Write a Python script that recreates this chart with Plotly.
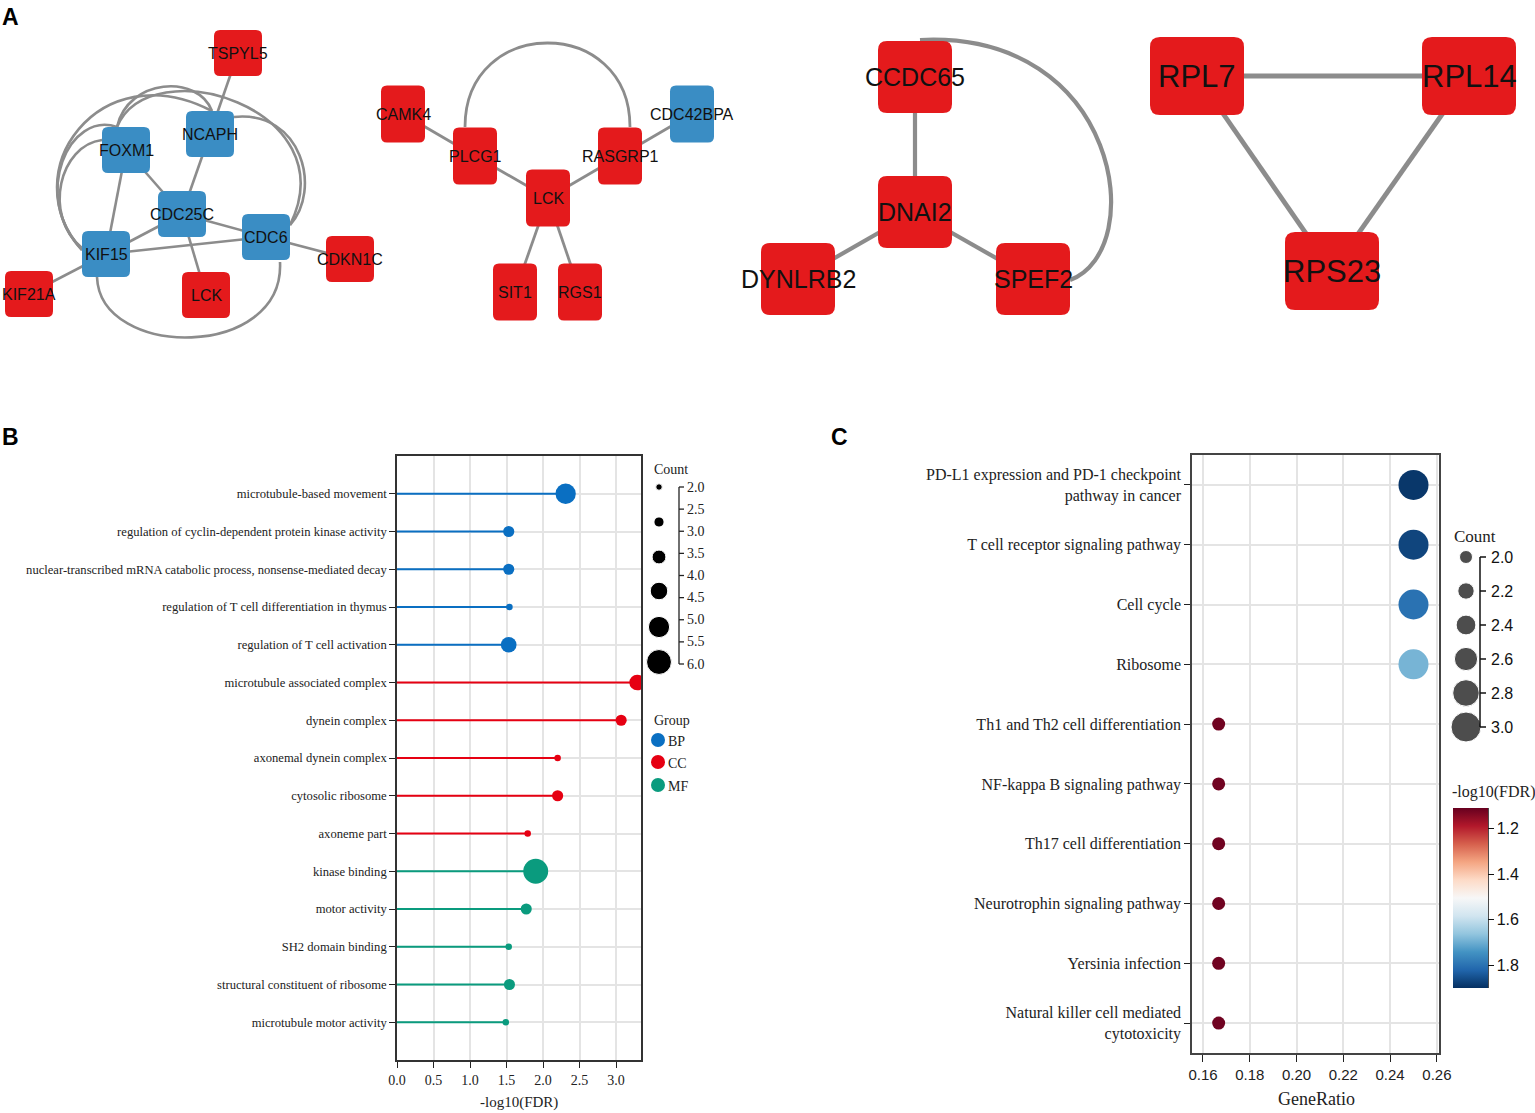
import plotly.graph_objects as go
from plotly.colors import diverging

W, H = 1535, 1113          # reference picture size (page pixels)

# ---------------- Panel A : PPI sub-networks (layout in page pixels) ----------------
node_ids = ["TSPYL5", "NCAPH", "FOXM1", "CDC25C", "CDC6", "KIF15", "CDKN1C", "KIF21A", "LCK_1",
            "CAMK4", "PLCG1", "RASGRP1", "CDC42BPA", "LCK_2", "SIT1", "RGS1",
            "CCDC65", "DNAI2", "DYNLRB2", "SPEF2",
            "RPL7", "RPL14", "RPS23"]
node_labels = ["TSPYL5", "NCAPH", "FOXM1", "CDC25C", "CDC6", "KIF15", "CDKN1C", "KIF21A", "LCK",
               "CAMK4", "PLCG1", "RASGRP1", "CDC42BPA", "LCK", "SIT1", "RGS1",
               "CCDC65", "DNAI2", "DYNLRB2", "SPEF2",
               "RPL7", "RPL14", "RPS23"]
node_x = [238, 210, 126, 182, 266, 106, 350, 29, 206,
          403, 475, 620, 692, 548, 515, 580,
          915, 915, 798, 1033,
          1197, 1469, 1332]
node_y = [53, 134, 150, 214, 237, 254, 259, 294, 295,
          114, 156, 156, 114, 198, 292, 292,
          77, 212, 279, 279,
          76, 76, 271]
node_group = ["red", "blue", "blue", "blue", "blue", "blue", "red", "red", "red",
              "red", "red", "red", "blue", "red", "red", "red",
              "red", "red", "red", "red",
              "red", "red", "red"]
node_net = [1] * 9 + [2] * 7 + [3] * 4 + [4] * 3

edge_src = ["TSPYL5", "NCAPH", "FOXM1", "FOXM1", "KIF15", "CDC25C", "CDC25C", "KIF15", "KIF15", "CDC6",
            "CAMK4", "PLCG1", "LCK_2", "RASGRP1", "LCK_2", "LCK_2",
            "CCDC65", "DNAI2", "DNAI2",
            "RPL7", "RPL7", "RPL14"]
edge_dst = ["NCAPH", "CDC25C", "CDC25C", "KIF15", "CDC25C", "CDC6", "LCK_1", "CDC6", "KIF21A", "CDKN1C",
            "PLCG1", "LCK_2", "RASGRP1", "CDC42BPA", "SIT1", "RGS1",
            "DNAI2", "DYNLRB2", "SPEF2",
            "RPL14", "RPS23", "RPS23"]

# curved edges: start, control 1, control 2, end (page pixels), network id
curve_start = [(82, 250), (82, 250), (82, 248), (117, 127), (117, 127), (234, 117), (97, 277), (465, 127), (920, 40)]
curve_c1 = [(12, 172), (30, 195), (42, 215), (128, 78), (150, 48), (302, 110), (100, 360), (465, 15), (1120, 30)]
curve_c2 = [(100, 52), (70, 110), (60, 145), (198, 74), (348, 108), (322, 190), (285, 360), (630, 15), (1150, 250)]
curve_end = [(212, 111), (117, 127), (102, 140), (212, 111), (290, 225), (290, 225), (280, 262), (630, 127), (1070, 280)]
curve_net = [1, 1, 1, 1, 1, 1, 1, 2, 3]

net_box_w = {1: 48, 2: 44, 3: 74, 4: 94}
net_box_h = {1: 46, 2: 57, 3: 72, 4: 78}
net_radius = {1: 6, 2: 6, 3: 9, 4: 10}
net_font = {1: 16, 2: 16, 3: 25, 4: 31}
net_edge_w = {1: 2.6, 2: 2.8, 3: 4.2, 4: 4.8}
node_colors = {"red": "#E41A1C", "blue": "#3A8DC4"}
edge_color = "#8C8C8C"

# ---------------- Panel B : GO enrichment lollipop ----------------
go_terms = ["microtubule-based movement",
            "regulation of cyclin-dependent protein kinase activity",
            "nuclear-transcribed mRNA catabolic process, nonsense-mediated decay",
            "regulation of T cell differentiation in thymus",
            "regulation of T cell activation",
            "microtubule associated complex",
            "dynein complex",
            "axonemal dynein complex",
            "cytosolic ribosome",
            "axoneme part",
            "kinase binding",
            "motor activity",
            "SH2 domain binding",
            "structural constituent of ribosome",
            "microtubule motor activity"]
go_logfdr = [2.31, 1.53, 1.53, 1.54, 1.53, 3.29, 3.07, 2.20, 2.20, 1.79, 1.90, 1.77, 1.53, 1.54, 1.49]
go_count = [5, 3, 3, 2, 4, 4, 3, 2, 3, 2, 6, 3, 2, 3, 2]
go_group = ["BP"] * 5 + ["CC"] * 5 + ["MF"] * 5
group_names = ["BP", "CC", "MF"]
group_colors = {"BP": "#0A6FC2", "CC": "#E60012", "MF": "#0A9B7E"}
b_xticks = [0.0, 0.5, 1.0, 1.5, 2.0, 2.5, 3.0]
b_count_legend = [2.0, 2.8, 3.6, 4.4, 5.2, 6.0]
b_count_ticks = [2.0, 2.5, 3.0, 3.5, 4.0, 4.5, 5.0, 5.5, 6.0]

# ---------------- Panel C : KEGG dot plot ----------------
kegg_terms = ["PD-L1 expression and PD-1 checkpoint<br>pathway in cancer",
              "T cell receptor signaling pathway",
              "Cell cycle",
              "Ribosome",
              "Th1 and Th2 cell differentiation",
              "NF-kappa B signaling pathway",
              "Th17 cell differentiation",
              "Neurotrophin signaling pathway",
              "Yersinia infection",
              "Natural killer cell mediated<br>cytotoxicity"]
kegg_ratio = [0.25, 0.25, 0.25, 0.25, 0.1667, 0.1667, 0.1667, 0.1667, 0.1667, 0.1667]
kegg_count = [3, 3, 3, 3, 2, 2, 2, 2, 2, 2]
kegg_logfdr = [1.89, 1.87, 1.80, 1.69, 1.12, 1.12, 1.12, 1.12, 1.12, 1.12]
c_xticks = [0.16, 0.18, 0.20, 0.22, 0.24, 0.26]
c_count_legend = [2.0, 2.2, 2.4, 2.6, 2.8, 3.0]
c_cbar_ticks = [1.2, 1.4, 1.6, 1.8]
c_cmin, c_cmax = 1.11, 1.90


def size_b(c):
    return 6.5 + (c - 2) * 4.6


def size_c(c):
    return 13 + (c - 2) * 17


def px(x):
    return x / W


def py(y):
    return 1 - y / H


SERIF = "Liberation Serif"
SANS = "Liberation Sans"

fig = go.Figure()
shapes = []
annotations = []

# ---- network drawing ----
pos = {n: (x, y) for n, x, y in zip(node_ids, node_x, node_y)}
net_of = {n: k for n, k in zip(node_ids, node_net)}
for s, d in zip(edge_src, edge_dst):
    k = net_of[s]
    shapes.append(dict(type="line", xref="x3", yref="y3", x0=pos[s][0], y0=pos[s][1],
                       x1=pos[d][0], y1=pos[d][1], line=dict(color=edge_color, width=net_edge_w[k])))
for p0, c1, c2, p1, k in zip(curve_start, curve_c1, curve_c2, curve_end, curve_net):
    path = f"M {p0[0]},{p0[1]} C {c1[0]},{c1[1]} {c2[0]},{c2[1]} {p1[0]},{p1[1]}"
    shapes.append(dict(type="path", xref="x3", yref="y3", path=path,
                       line=dict(color=edge_color, width=net_edge_w[k])))


def rrect(cx, cy, w, h, r):
    x0, x1, y0, y1 = cx - w / 2, cx + w / 2, cy - h / 2, cy + h / 2
    return (f"M {x0 + r},{y0} L {x1 - r},{y0} Q {x1},{y0} {x1},{y0 + r} "
            f"L {x1},{y1 - r} Q {x1},{y1} {x1 - r},{y1} L {x0 + r},{y1} "
            f"Q {x0},{y1} {x0},{y1 - r} L {x0},{y0 + r} Q {x0},{y0} {x0 + r},{y0} Z")


for n, lab, x, y, g, k in zip(node_ids, node_labels, node_x, node_y, node_group, node_net):
    shapes.append(dict(type="path", xref="x3", yref="y3",
                       path=rrect(x, y, net_box_w[k], net_box_h[k], net_radius[k]),
                       fillcolor=node_colors[g], line=dict(width=0)))
    annotations.append(dict(x=x, y=y, xref="x3", yref="y3", text=lab, showarrow=False,
                            xanchor="center", yanchor="middle",
                            font=dict(family=SANS, size=net_font[k], color="#111")))

# ---- panel B traces ----
for g in group_names:
    xs, ys, mx, my, ms = [], [], [], [], []
    for i, (v, c, gg) in enumerate(zip(go_logfdr, go_count, go_group)):
        if gg != g:
            continue
        xs += [0, v, None]
        ys += [i, i, None]
        mx.append(v)
        my.append(i)
        ms.append(size_b(c))
    fig.add_trace(go.Scatter(x=xs, y=ys, mode="lines", line=dict(color=group_colors[g], width=2),
                             xaxis="x", yaxis="y", showlegend=False, hoverinfo="skip"))
    fig.add_trace(go.Scatter(x=mx, y=my, mode="markers",
                             marker=dict(size=ms, color=group_colors[g], opacity=1, line=dict(width=0)),
                             xaxis="x", yaxis="y", showlegend=False))

# ---- panel C trace ----
rdbu = diverging.RdBu  # red -> blue
n_c = len(rdbu)
cscale = [[i / (n_c - 1), col] for i, col in enumerate(rdbu[::-1])]  # blue (low) -> red (high)
fig.add_trace(go.Scatter(
    x=kegg_ratio, y=list(range(len(kegg_terms))), mode="markers", xaxis="x2", yaxis="y2",
    showlegend=False,
    marker=dict(size=[size_c(c) for c in kegg_count], color=[-v for v in kegg_logfdr],
                colorscale=cscale, cmin=-c_cmax, cmax=-c_cmin, opacity=1, line=dict(width=0),
                showscale=True,
                colorbar=dict(x=px(1453), xanchor="left", xpad=0, ypad=0,
                              y=py(898), yanchor="middle", len=180 / H, lenmode="fraction",
                              thickness=35, outlinewidth=0,
                              tickvals=[-v for v in c_cbar_ticks],
                              ticktext=[f"{v:.1f}" for v in c_cbar_ticks],
                              ticks="outside", ticklen=6, tickcolor="#111",
                              tickfont=dict(family=SANS, size=16, color="#111")))))

# ---- legends (page-pixel overlay axis x3/y3) ----
b_leg_y = [487, 522, 557, 591, 627, 662]
fig.add_trace(go.Scatter(x=[659] * len(b_count_legend), y=b_leg_y, mode="markers",
                         marker=dict(size=[size_b(c) for c in b_count_legend], color="black", opacity=1),
                         xaxis="x3", yaxis="y3", showlegend=False, hoverinfo="skip"))
grp_leg_y = [740, 762, 785]
fig.add_trace(go.Scatter(x=[658] * 3, y=grp_leg_y, mode="markers",
                         marker=dict(size=14, color=[group_colors[g] for g in group_names], opacity=1),
                         xaxis="x3", yaxis="y3", showlegend=False, hoverinfo="skip"))
c_leg_y = [557, 591, 625, 659, 693, 727]
fig.add_trace(go.Scatter(x=[1466] * len(c_count_legend), y=c_leg_y, mode="markers",
                         marker=dict(size=[size_c(c) for c in c_count_legend], color="#4D4D4D", opacity=1),
                         xaxis="x3", yaxis="y3", showlegend=False, hoverinfo="skip"))

# B count scale bracket
shapes.append(dict(type="line", xref="x3", yref="y3", x0=679, x1=679, y0=487, y1=664,
                   line=dict(color="#222", width=1.3)))
for v in b_count_ticks:
    yy = 487 + (v - 2.0) * (664 - 487) / 4.0
    shapes.append(dict(type="line", xref="x3", yref="y3", x0=679, x1=684, y0=yy, y1=yy,
                       line=dict(color="#222", width=1.3)))
    annotations.append(dict(x=685, y=yy, xref="x3", yref="y3", text=f"{v:.1f}", showarrow=False,
                            xanchor="left", yanchor="middle",
                            font=dict(family=SERIF, size=14, color="#222")))
annotations.append(dict(x=652, y=469, xref="x3", yref="y3", text="Count", showarrow=False,
                        xanchor="left", yanchor="middle", font=dict(family=SERIF, size=14, color="#222")))
annotations.append(dict(x=652, y=720, xref="x3", yref="y3", text="Group", showarrow=False,
                        xanchor="left", yanchor="middle", font=dict(family=SERIF, size=14, color="#222")))
for g, yy in zip(group_names, grp_leg_y):
    annotations.append(dict(x=666, y=yy + 1, xref="x3", yref="y3", text=g, showarrow=False,
                            xanchor="left", yanchor="middle",
                            font=dict(family=SERIF, size=14, color="#222")))

# C count scale bracket
shapes.append(dict(type="line", xref="x3", yref="y3", x0=1480, x1=1480, y0=557, y1=727,
                   line=dict(color="#111", width=1.5)))
for v, yy in zip(c_count_legend, c_leg_y):
    shapes.append(dict(type="line", xref="x3", yref="y3", x0=1480, x1=1486, y0=yy, y1=yy,
                       line=dict(color="#111", width=1.5)))
    annotations.append(dict(x=1489, y=yy, xref="x3", yref="y3", text=f"{v:.1f}", showarrow=False,
                            xanchor="left", yanchor="middle",
                            font=dict(family=SANS, size=16, color="#111")))
annotations.append(dict(x=1452, y=536, xref="x3", yref="y3", text="Count", showarrow=False,
                        xanchor="left", yanchor="middle", font=dict(family=SERIF, size=17, color="#222")))
annotations.append(dict(x=1450, y=792, xref="x3", yref="y3", text="-log10(FDR)", showarrow=False,
                        xanchor="left", yanchor="middle", font=dict(family=SERIF, size=16, color="#222")))
# colorbar right spine
shapes.append(dict(type="line", xref="x3", yref="y3", x0=1488, x1=1488, y0=808, y1=988,
                   line=dict(color="#111", width=1.5)))

# axis titles and panel letters
annotations.append(dict(x=519, y=1102, xref="x3", yref="y3", text="-log10(FDR)", showarrow=False,
                        xanchor="center", yanchor="middle", font=dict(family=SERIF, size=15, color="#222")))
annotations.append(dict(x=1316, y=1099, xref="x3", yref="y3", text="GeneRatio", showarrow=False,
                        xanchor="center", yanchor="middle", font=dict(family=SERIF, size=18, color="#222")))
for lab, x, y in [("A", 10, 17), ("B", 10, 437), ("C", 839, 437)]:
    annotations.append(dict(x=x, y=y, xref="x3", yref="y3", text=f"<b>{lab}</b>", showarrow=False,
                            xanchor="center", yanchor="middle", font=dict(family=SANS, size=23, color="black")))

fig.update_layout(
    width=W, height=H, margin=dict(l=0, r=0, t=0, b=0, pad=0, autoexpand=False),
    paper_bgcolor="white", plot_bgcolor="rgba(0,0,0,0)",
    showlegend=False,
    shapes=shapes, annotations=annotations,
    xaxis=dict(domain=[px(397), px(641)], range=[0, 3.342], tickvals=b_xticks,
               ticktext=[f"{v:.1f}" for v in b_xticks], ticks="outside", ticklen=6, tickcolor="#222",
               showline=True, linecolor="#333", linewidth=1.5, mirror=True, automargin=False,
               showgrid=True, gridcolor="#E4E4E4", gridwidth=1.5, zeroline=False,
               tickfont=dict(family=SERIF, size=14, color="#222")),
    yaxis=dict(domain=[py(1060), py(456)], range=[15, -1], tickvals=list(range(len(go_terms))),
               ticktext=go_terms, ticks="outside", ticklen=6, tickcolor="#222",
               showline=True, linecolor="#333", linewidth=1.5, mirror=True, automargin=False,
               showgrid=True, gridcolor="#E4E4E4", gridwidth=1.5, zeroline=False,
               tickfont=dict(family=SERIF, size=12.6, color="#222")),
    xaxis2=dict(domain=[px(1192), px(1439)], range=[0.1553, 0.2609], tickvals=c_xticks,
                ticktext=[f"{v:.2f}" for v in c_xticks], ticks="outside", ticklen=7, tickcolor="#222",
                showline=True, linecolor="#444", linewidth=1.5, mirror=True, automargin=False,
                showgrid=True, gridcolor="#E4E4E4", gridwidth=1.5, zeroline=False,
                tickfont=dict(family=SANS, size=15, color="#222"), anchor="y2"),
    yaxis2=dict(domain=[py(1053), py(455)], range=[9.5, -0.5], tickvals=list(range(len(kegg_terms))),
                ticktext=kegg_terms, ticks="outside", ticklen=6, tickcolor="#222",
                showline=True, linecolor="#444", linewidth=1.5, mirror=True, automargin=False,
                showgrid=True, gridcolor="#E4E4E4", gridwidth=1.5, zeroline=False,
                tickfont=dict(family=SERIF, size=16, color="#222"), anchor="x2"),
    xaxis3=dict(domain=[0, 1], range=[0, W], visible=False, fixedrange=True, anchor="y3", automargin=False),
    yaxis3=dict(domain=[0, 1], range=[H, 0], visible=False, fixedrange=True, anchor="x3", automargin=False),
)

# remove the default page margin so the figure fills the window exactly
page_css = ("document.documentElement.style.margin='0';document.body.style.margin='0';"
            "document.body.style.padding='0';document.documentElement.style.overflow='hidden';"
            "document.body.style.overflow='hidden';")
fig.write_html("out.html", post_script=page_css, config={"displayModeBar": False})
